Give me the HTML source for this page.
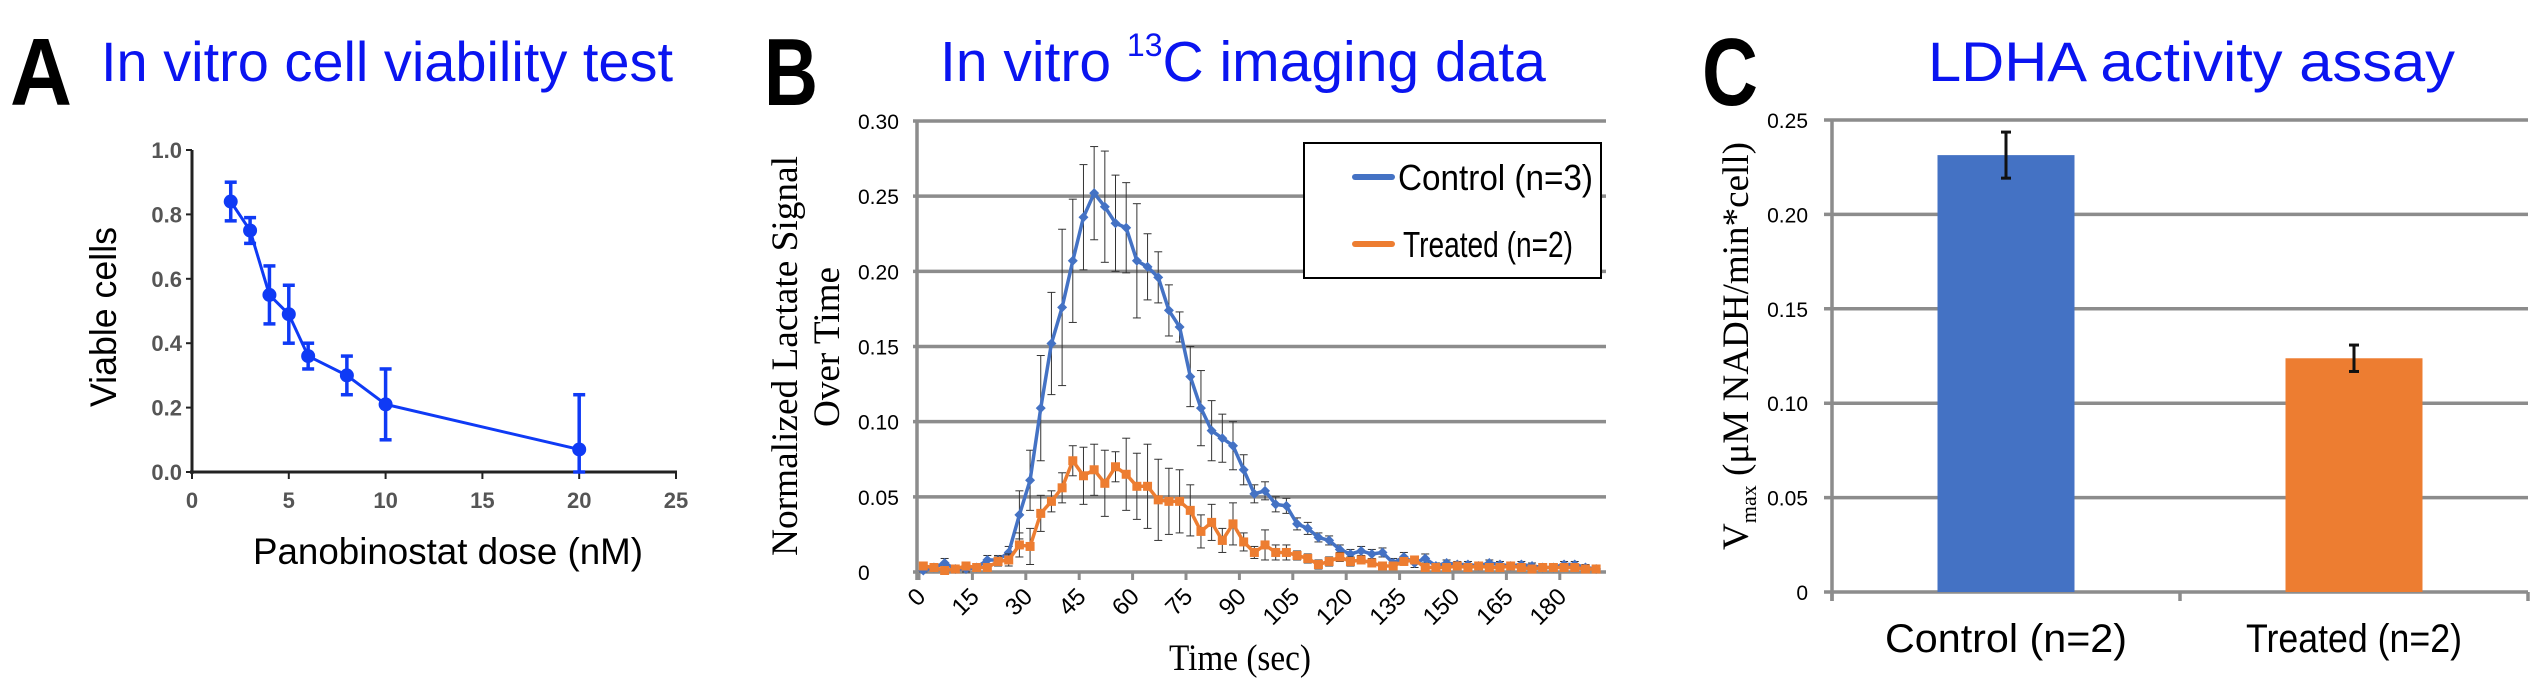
<!DOCTYPE html>
<html><head><meta charset="utf-8">
<style>
html,body{margin:0;padding:0;background:#fff;}
svg{display:block;}
text{font-family:"Liberation Sans",sans-serif;}
.serif{font-family:"Liberation Serif",serif;}
</style></head>
<body>
<svg id="fig" width="2546" height="694" viewBox="0 0 2546 694" xmlns="http://www.w3.org/2000/svg">
  <text x="10" y="105" font-size="96" font-weight="bold" textLength="62" lengthAdjust="spacingAndGlyphs">A</text>
  <text x="101" y="81" font-size="56" fill="#0a14f0" textLength="572" lengthAdjust="spacingAndGlyphs">In vitro cell viability test</text>
  <text x="764" y="105" font-size="96" font-weight="bold" textLength="54" lengthAdjust="spacingAndGlyphs">B</text>
  <text x="940" y="81" font-size="57" fill="#0a14f0"><tspan>In vitro </tspan><tspan font-size="32" dy="-25">13</tspan><tspan dy="25">C imaging data</tspan></text>
  <text x="1702" y="105" font-size="96" font-weight="bold" textLength="56" lengthAdjust="spacingAndGlyphs">C</text>
  <text x="1928" y="81" font-size="56" fill="#0a14f0" textLength="527" lengthAdjust="spacingAndGlyphs">LDHA activity assay</text>

  <g id="chartA"></g>
  <g id="chartB"></g>
  <g id="chartC"></g>
</svg>
<script>
// ---------- Panel A data ----------
const doseX = [2, 3, 4, 5, 6, 8, 10, 20];
const viableY = [0.84, 0.75, 0.55, 0.49, 0.36, 0.30, 0.21, 0.07];
const viableErr = [0.06, 0.04, 0.09, 0.09, 0.04, 0.06, 0.11, 0.17];
const aXTicks = [0, 5, 10, 15, 20, 25];
const aYTicks = ["0.0", "0.2", "0.4", "0.6", "0.8", "1.0"];

// ---------- Panel B data ----------
const controlY = [0.001,0.003,0.006,0.002,0.002,0.003,0.008,0.008,0.013,0.038,0.061,0.109,0.152,0.176,0.207,0.236,0.252,0.243,0.232,0.229,0.207,0.203,0.196,0.174,0.163,0.130,0.109,0.094,0.089,0.084,0.068,0.052,0.054,0.045,0.044,0.032,0.029,0.023,0.021,0.015,0.012,0.014,0.012,0.013,0.006,0.010,0.006,0.009,0.004,0.006,0.005,0.005,0.004,0.006,0.005,0.004,0.005,0.004,0.003,0.003,0.005,0.005,0.003,0.002];
const controlErr = [0.002,0.002,0.003,0.002,0.002,0.002,0.003,0.003,0.004,0.016,0.02,0.035,0.034,0.052,0.041,0.035,0.031,0.037,0.032,0.03,0.038,0.022,0.017,0.017,0.01,0.02,0.025,0.02,0.016,0.016,0.01,0.006,0.006,0.005,0.005,0.004,0.004,0.003,0.003,0.003,0.003,0.003,0.003,0.003,0.003,0.003,0.003,0.003,0.002,0.002,0.002,0.002,0.002,0.002,0.002,0.002,0.002,0.002,0.002,0.002,0.002,0.002,0.002,0.002];
const treatedY = [0.004,0.003,0.001,0.002,0.004,0.003,0.003,0.007,0.008,0.018,0.017,0.039,0.047,0.056,0.074,0.064,0.068,0.059,0.070,0.065,0.057,0.057,0.048,0.047,0.047,0.041,0.027,0.033,0.021,0.032,0.020,0.013,0.018,0.013,0.013,0.011,0.009,0.005,0.007,0.010,0.007,0.008,0.006,0.004,0.004,0.007,0.008,0.003,0.003,0.003,0.004,0.003,0.004,0.003,0.003,0.004,0.003,0.002,0.003,0.003,0.003,0.003,0.002,0.002];
const treatedErr = [0.002,0.002,0.002,0.002,0.002,0.002,0.002,0.003,0.004,0.008,0.012,0.012,0.007,0.01,0.01,0.019,0.017,0.022,0.01,0.024,0.022,0.028,0.027,0.022,0.021,0.017,0.011,0.012,0.008,0.014,0.006,0.004,0.01,0.005,0.005,0.003,0.003,0.003,0.003,0.003,0.003,0.002,0.002,0.002,0.002,0.002,0.002,0.002,0.002,0.002,0.002,0.002,0.002,0.002,0.002,0.002,0.002,0.002,0.002,0.002,0.002,0.002,0.002,0.002];
const bYTicks = ["0", "0.05", "0.10", "0.15", "0.20", "0.25", "0.30"];
const bXTicks = [0, 15, 30, 45, 60, 75, 90, 105, 120, 135, 150, 165, 180];
const seriesNames = ["Control (n=3)", "Treated (n=2)"];

// ---------- Panel C data ----------
const groups = ["Control (n=2)", "Treated (n=2)"];
const vmax = [0.2314, 0.1238];
const vmaxErr = [0.0122, 0.007];
const cYTicks = ["0", "0.05", "0.10", "0.15", "0.20", "0.25"];

const NS = "http://www.w3.org/2000/svg";
function mk(parent, tag, attrs, text) {
  const e = document.createElementNS(NS, tag);
  for (const k in attrs) e.setAttribute(k, attrs[k]);
  if (text !== undefined) e.textContent = text;
  parent.appendChild(e);
  return e;
}

// ================= Panel A =================
(function () {
  const g = document.getElementById("chartA");
  const x0 = 192, x1 = 676, yT = 150, yB = 472;
  const sx = v => x0 + (v - 0) / 25 * (x1 - x0);
  const sy = v => yB - v / 1.0 * (yB - yT);
  let e;
  e = mk(g, "line", {x1: x0, y1: yT, x2: x0, y2: yB + 2, stroke: "#222", "stroke-width": 3});
   
  e = mk(g, "line", {x1: x0 - 2, y1: yB, x2: x1 + 1, y2: yB, stroke: "#222", "stroke-width": 3});
   
  aYTicks.forEach(t => {
    const y = sy(parseFloat(t));
    mk(g, "line", {x1: x0 - 6, y1: y, x2: x0, y2: y, stroke: "#222", "stroke-width": 2});
    e = mk(g, "text", {x: x0 - 10, y: y + 8, "font-size": 22, "font-weight": "bold", fill: "#555", "text-anchor": "end"}, t);
     
  });
  aXTicks.forEach(t => {
    const x = sx(t);
    mk(g, "line", {x1: x, y1: yB, x2: x, y2: yB + 7, stroke: "#222", "stroke-width": 2});
    e = mk(g, "text", {x: x, y: yB + 36, "font-size": 22, "font-weight": "bold", fill: "#555", "text-anchor": "middle"}, String(t));
     
  });
  e = mk(g, "text", {x: 0, y: 0, "font-size": 37, transform: "translate(116,317) rotate(-90)", "text-anchor": "middle", textLength: 180, lengthAdjust: "spacingAndGlyphs"}, "Viable cells");
   
  e = mk(g, "text", {x: 253, y: 564, "font-size": 37, textLength: 390, lengthAdjust: "spacingAndGlyphs"}, "Panobinostat dose (nM)");
   
  const col = "#0f3af5";
  e = mk(g, "polyline", {points: doseX.map((d, i) => sx(d) + "," + sy(viableY[i])).join(" "), fill: "none", stroke: col, "stroke-width": 3});
   
  doseX.forEach((d, i) => {
    const x = sx(d), y = sy(viableY[i]), yh = sy(viableY[i] + viableErr[i]), yl = sy(Math.max(0, viableY[i] - viableErr[i]));
    const eg = mk(g, "g", {});
     
    mk(eg, "line", {x1: x, y1: yh, x2: x, y2: yl, stroke: col, "stroke-width": 3.5});
    mk(eg, "line", {x1: x - 6, y1: yh, x2: x + 6, y2: yh, stroke: col, "stroke-width": 3.5});
    mk(eg, "line", {x1: x - 6, y1: yl, x2: x + 6, y2: yl, stroke: col, "stroke-width": 3.5});
    mk(eg, "circle", {cx: x, cy: y, r: 7, fill: col});
  });
})();

// ================= Panel B =================
(function () {
  const g = document.getElementById("chartB");
  const x0 = 917, x1 = 1606, yT = 121, yB = 572;
  const sx = t => 919 + t * (53.4 / 15);
  const sy = v => yB - v / 0.30 * (yB - yT);
  let e;
  bYTicks.forEach(t => {
    const y = sy(parseFloat(t));
    e = mk(g, "line", {x1: x0 - 4, y1: y, x2: x1, y2: y, stroke: "#8c8c8c", "stroke-width": 3.5});
     
    e = mk(g, "text", {x: 858, y: y + 8, "font-size": 21}, t);
     
  });
  e = mk(g, "line", {x1: x0, y1: yT, x2: x0, y2: yB + 8, stroke: "#8c8c8c", "stroke-width": 3.5});
   
  bXTicks.forEach(t => {
    const x = sx(t);
    mk(g, "line", {x1: x, y1: yB, x2: x, y2: yB + 8, stroke: "#8c8c8c", "stroke-width": 3});
    e = mk(g, "text", {x: 0, y: 0, "font-size": 24, "text-anchor": "end", transform: `translate(${x + 8},${yB + 26}) rotate(-45)`}, String(t));
     
  });
  e = mk(g, "text", {x: 1240, y: 670, "font-size": 37, "text-anchor": "middle", "class": "serif", textLength: 142, lengthAdjust: "spacingAndGlyphs"}, "Time (sec)");
   
  e = mk(g, "text", {x: 0, y: 0, "font-size": 37, "text-anchor": "middle", "class": "serif", transform: "translate(797,356) rotate(-90)", textLength: 400, lengthAdjust: "spacingAndGlyphs"}, "Normalized Lactate Signal");
   
  e = mk(g, "text", {x: 0, y: 0, "font-size": 37, "text-anchor": "middle", "class": "serif", transform: "translate(839,347) rotate(-90)", textLength: 160, lengthAdjust: "spacingAndGlyphs"}, "Over Time");
   

  const times = controlY.map((_, i) => 1.2 + 3 * i);
  function series(vals, errs, col, square, nm) {
    const sg = mk(g, "g", {});
     
    vals.forEach((v, i) => {
      const x = sx(times[i]), yh = sy(v + errs[i]), yl = sy(Math.max(0, v - errs[i]));
      mk(sg, "line", {x1: x, y1: yh, x2: x, y2: yl, stroke: "#333", "stroke-width": 1});
      mk(sg, "line", {x1: x - 4, y1: yh, x2: x + 4, y2: yh, stroke: "#333", "stroke-width": 1});
      mk(sg, "line", {x1: x - 4, y1: yl, x2: x + 4, y2: yl, stroke: "#333", "stroke-width": 1});
    });
    mk(sg, "polyline", {points: vals.map((v, i) => sx(times[i]) + "," + sy(v)).join(" "), fill: "none", stroke: col, "stroke-width": 3.5, "stroke-linejoin": "round"});
    vals.forEach((v, i) => {
      const x = sx(times[i]), y = sy(v);
      if (square) mk(sg, "rect", {x: x - 4.5, y: y - 4.5, width: 9, height: 9, fill: col});
      else mk(sg, "path", {d: `M${x},${y - 5}L${x + 5},${y}L${x},${y + 5}L${x - 5},${y}Z`, fill: col});
    });
  }
  series(controlY, controlErr, "#4472c4", false, "b-control-series");
  series(treatedY, treatedErr, "#ed7d31", true, "b-treated-series");

  const lg = mk(g, "g", {});
   
  mk(lg, "rect", {x: 1304, y: 143, width: 297, height: 135, fill: "#fff", stroke: "#000", "stroke-width": 2});
  const cols = ["#4472c4", "#ed7d31"];
  seriesNames.forEach((n, i) => {
    const y = 177 + i * 67;
    const eg = mk(lg, "g", {});
     
    mk(eg, "line", {x1: 1355, y1: y, x2: 1392, y2: y, stroke: cols[i], "stroke-width": 6, "stroke-linecap": "round"});
    mk(eg, "text", {x: i ? 1403 : 1398, y: y + 13, "font-size": 36, textLength: i ? 170 : 195, lengthAdjust: "spacingAndGlyphs"}, n);
  });
})();

// ================= Panel C =================
(function () {
  const g = document.getElementById("chartC");
  const x0 = 1832, x1 = 2528, yT = 120, yB = 592;
  const sy = v => yB - v / 0.25 * (yB - yT);
  const band = (x1 - x0) / groups.length;
  let e;
  cYTicks.forEach(t => {
    const y = sy(parseFloat(t));
    e = mk(g, "line", {x1: x0 - 8, y1: y, x2: x1, y2: y, stroke: "#8c8c8c", "stroke-width": 3.5});
     
    e = mk(g, "text", {x: 1808, y: y + 8, "font-size": 21, "text-anchor": "end"}, t);
     
  });
  e = mk(g, "line", {x1: x0, y1: yT, x2: x0, y2: yB + 9, stroke: "#8c8c8c", "stroke-width": 3.5});
   
  for (let i = 0; i <= groups.length; i++) {
    const x = x0 + i * band;
    mk(g, "line", {x1: x, y1: yB, x2: x, y2: yB + 9, stroke: "#8c8c8c", "stroke-width": 3.5});
  }
  const cols = ["#4472c4", "#ed7d31"];
  groups.forEach((n, i) => {
    const cx = x0 + band * (i + 0.5), w = 137;
    e = mk(g, "rect", {x: cx - w / 2, y: sy(vmax[i]), width: w, height: yB - sy(vmax[i]), fill: cols[i]});
     
    const yh = sy(vmax[i] + vmaxErr[i]), yl = sy(vmax[i] - vmaxErr[i]);
    const eg = mk(g, "g", {});
     
    mk(eg, "line", {x1: cx, y1: yh, x2: cx, y2: yl, stroke: "#111", "stroke-width": 3});
    mk(eg, "line", {x1: cx - 5, y1: yh, x2: cx + 5, y2: yh, stroke: "#111", "stroke-width": 3});
    mk(eg, "line", {x1: cx - 5, y1: yl, x2: cx + 5, y2: yl, stroke: "#111", "stroke-width": 3});
    e = mk(g, "text", {x: cx, y: 652, "font-size": 40, "text-anchor": "middle", textLength: i ? 216 : 242, lengthAdjust: "spacingAndGlyphs"}, n);
     
  });
  e = mk(g, "text", {x: 0, y: 0, "font-size": 37, "class": "serif", "text-anchor": "middle", transform: "translate(1748,346) rotate(-90)", textLength: 408, lengthAdjust: "spacingAndGlyphs"});
   
  mk(e, "tspan", {}, "V");
  mk(e, "tspan", {"font-size": 22, dy: 8}, "max");
  mk(e, "tspan", {dy: -8}, " (μM NADH/min*cell)");
})();
</script>
</body></html>
